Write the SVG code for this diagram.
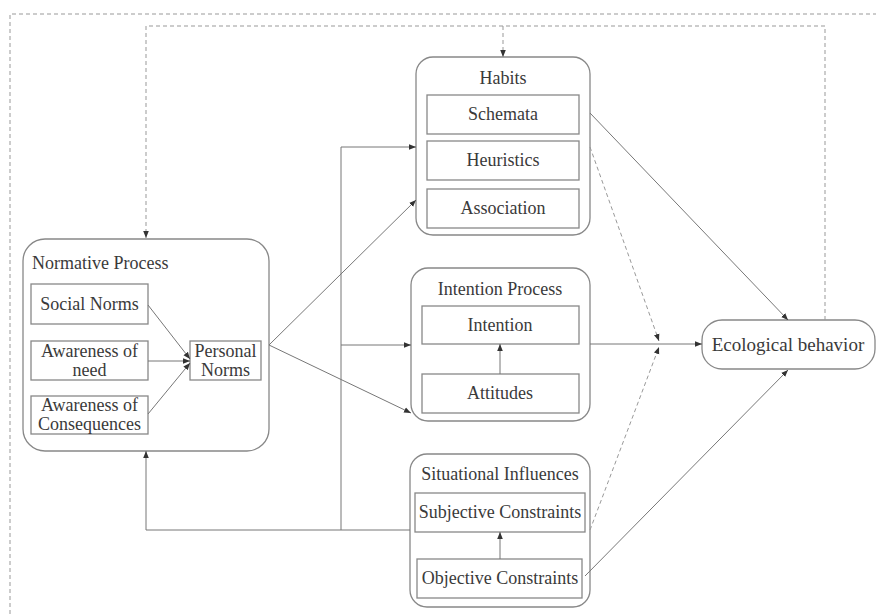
<svg xmlns="http://www.w3.org/2000/svg" width="876" height="614" viewBox="0 0 876 614">
<style>
  text { font-family: "Liberation Serif", "DejaVu Serif", serif; fill: #3a3a3a; text-anchor: middle; dominant-baseline: central; }
  .t { font-size: 18px; }
  .tl { text-anchor: start; }
  .outer { fill: #fff; stroke: #888; stroke-width: 1.3; }
  .inner { fill: #fff; stroke: #888; stroke-width: 1.3; }
  .c { fill: none; stroke: #777; stroke-width: 1; }
  .d { fill: none; stroke: #999; stroke-width: 1; stroke-dasharray: 4 3; }
</style>
<defs>
  <marker id="a" viewBox="0 0 10 10" refX="10" refY="5" markerWidth="7" markerHeight="7" orient="auto" markerUnits="userSpaceOnUse">
    <path d="M0,1 L10,5 L0,9 Z" fill="#333"/>
  </marker>
</defs>
<rect width="876" height="614" fill="#fff"/>

<g id="habits">
  <rect class="outer" x="416" y="57" width="174" height="178" rx="17"/>
  <text class="t" x="503" y="78">Habits</text>
  <rect class="inner" x="427" y="95" width="152" height="39"/>
  <text class="t" x="503" y="114">Schemata</text>
  <rect class="inner" x="427" y="141" width="152" height="39"/>
  <text class="t" x="503" y="160">Heuristics</text>
  <rect class="inner" x="427" y="189" width="152" height="39"/>
  <text class="t" x="503" y="208">Association</text>
</g>

<g id="normative">
  <rect class="outer" x="23" y="239" width="246" height="212" rx="22"/>
  <text class="t tl" x="32" y="263">Normative Process</text>
  <rect class="inner" x="31" y="284" width="117" height="40"/>
  <text class="t" x="89.5" y="304">Social Norms</text>
  <rect class="inner" x="31" y="341" width="117" height="39"/>
  <text class="t" x="89.5" y="351">Awareness of</text>
  <text class="t" x="89.5" y="370">need</text>
  <rect class="inner" x="31" y="396" width="117" height="38"/>
  <text class="t" x="89.5" y="405">Awareness of</text>
  <text class="t" x="89.5" y="424">Consequences</text>
  <rect class="inner" x="190" y="341" width="71" height="39"/>
  <text class="t" x="225.5" y="351">Personal</text>
  <text class="t" x="225.5" y="370">Norms</text>
</g>

<g id="intention">
  <rect class="outer" x="411" y="268" width="179" height="153" rx="17"/>
  <text class="t" x="500" y="289">Intention Process</text>
  <rect class="inner" x="422" y="306" width="157" height="38"/>
  <text class="t" x="500" y="325">Intention</text>
  <rect class="inner" x="422" y="374" width="157" height="39"/>
  <text class="t" x="500" y="393">Attitudes</text>
</g>

<g id="situational">
  <rect class="outer" x="410" y="454" width="180" height="153" rx="17"/>
  <text class="t" x="500" y="474">Situational Influences</text>
  <rect class="inner" x="415" y="493" width="170" height="39"/>
  <text class="t" x="500" y="512">Subjective Constraints</text>
  <rect class="inner" x="417" y="559" width="165" height="39"/>
  <text class="t" x="500" y="578">Objective Constraints</text>
</g>

<g id="ecological">
  <rect class="outer" x="702" y="320" width="173" height="49" rx="20"/>
  <text x="788" y="344" style="font-size:19px">Ecological behavior</text>
</g>

<g id="connectors">
  <polyline class="d" points="10,614 10,14 876,14"/>
  <polyline class="d" points="825,320 825,26 146,26 146,238" marker-end="url(#a)"/>
  <line class="d" x1="503" y1="26" x2="503" y2="57" marker-end="url(#a)"/>
  <line class="c" x1="148" y1="305" x2="190" y2="359" marker-end="url(#a)"/>
  <line class="c" x1="148" y1="361" x2="190" y2="361" marker-end="url(#a)"/>
  <line class="c" x1="148" y1="414" x2="190" y2="363" marker-end="url(#a)"/>
  <line class="c" x1="269" y1="345" x2="416" y2="200" marker-end="url(#a)"/>
  <line class="c" x1="269" y1="345" x2="411" y2="413" marker-end="url(#a)"/>
  <polyline class="c" points="410,530 146,530 146,451" marker-end="url(#a)"/>
  <polyline class="c" points="341,530 341,147 416,147" marker-end="url(#a)"/>
  <line class="c" x1="341" y1="345" x2="411" y2="345" marker-end="url(#a)"/>
  <line class="c" x1="500" y1="374" x2="500" y2="344" marker-end="url(#a)"/>
  <line class="c" x1="500" y1="559" x2="500" y2="532" marker-end="url(#a)"/>
  <line class="c" x1="590" y1="344" x2="660" y2="344"/>
  <line class="c" x1="660" y1="344" x2="702" y2="344" marker-end="url(#a)"/>
  <line class="d" x1="590" y1="147" x2="659" y2="341" marker-end="url(#a)"/>
  <line class="d" x1="590" y1="530" x2="659" y2="347" marker-end="url(#a)"/>
  <line class="c" x1="590" y1="113" x2="788" y2="320" marker-end="url(#a)"/>
  <line class="c" x1="585" y1="576" x2="788" y2="370" marker-end="url(#a)"/>
</g>
</svg>
